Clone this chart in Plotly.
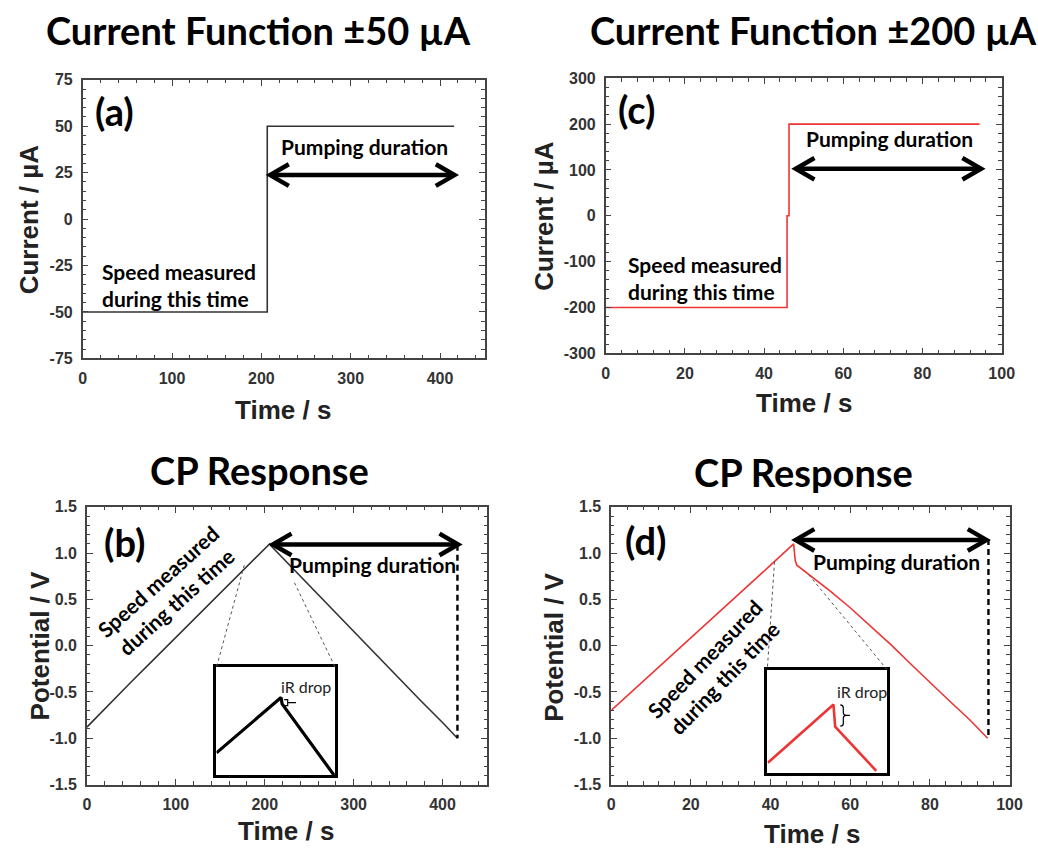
import plotly.graph_objects as go

W, H = 1038, 854

# ---------------- data ----------------
# (a) current function +-50 uA
t_a = [0, 206.6, 206.6, 415.8]
i_a = [-50, -50, 50, 50]
# (c) current function +-200 uA
t_c = [0, 45.8, 45.8, 46.3, 46.3, 94.4]
i_c = [-200, -200, 0, 0, 200, 200]
# (b) CP response for +-50 uA
t_b = [0, 25, 50, 75, 100, 125, 150, 175, 205.5, 207, 225, 250, 275, 300, 325, 350, 375, 400, 416.8]
v_b = [-0.88, -0.63, -0.39, -0.15, 0.09, 0.33, 0.57, 0.81, 1.10, 1.08, 0.90, 0.65, 0.40, 0.16, -0.09, -0.34, -0.59, -0.83, -1.00]
# (d) CP response for +-200 uA
t_d = [0, 10, 20, 30, 40, 45.8, 46.2, 46.6, 50, 55, 60, 65, 70, 75, 80, 85, 90, 94.5]
v_d = [-0.70, -0.31, 0.09, 0.48, 0.87, 1.10, 0.92, 0.87, 0.76, 0.59, 0.41, 0.22, 0.02, -0.19, -0.40, -0.60, -0.80, -1.00]
# insets: zoom of the peak region (percent of the inset box)
xin_b = [0, 54.4, 55.3, 99]
yin_b = [20.6, 72, 66, 0]
xin_d = [0.5, 55.3, 56.7, 91]
yin_d = [10, 66.2, 44.8, 2.3]

# tick labels
ya_vals = [-75, -50, -25, 0, 25, 50, 75]
ya_text = ["-75", "-50", "-25", "0", "25", "50", "75"]
yc_vals = [-300, -200, -100, 0, 100, 200, 300]
yc_text = ["-300", "-200", "-100", "0", "100", "200", "300"]
yv_vals = [-1.5, -1.0, -0.5, 0.0, 0.5, 1.0, 1.5]
yv_text = ["-1.5", "-1.0", "-0.5", "0.0", "0.5", "1.0", "1.5"]

titles = ["Current Function ±50 µA", "Current Function ±200 µA", "CP Response", "CP Response"]
panel_labels = ["(a)", "(c)", "(b)", "(d)"]

RED = "#ee3535"
AXC = "#444444"

# ---------------- layout boxes (px: left, top, right, bottom) ----------------
BOX = {
    "a": (80, 73.3, 488.7, 357.5),
    "c": (611.7, 71.7, 1014.3, 352.3),
    "b": (84.3, 509, 491, 792.3),
    "d": (617.3, 509, 1022.3, 792.3),
    "ib": (216, 672.7, 336.7, 782.7),
    "id": (776, 675, 897.7, 780.7),
}
RNG = {
    "a": ([0, 450], [-75, 75]),
    "c": ([0, 100], [-300, 300]),
    "b": ([0, 450], [-1.5, 1.5]),
    "d": ([0, 100], [-1.5, 1.5]),
    "ib": ([0, 100], [0, 100]),
    "id": ([0, 100], [0, 100]),
}


def to_px(key, x, y):
    l, t, r, b = BOX[key]
    xr, yr = RNG[key]
    px = l + (x - xr[0]) / (xr[1] - xr[0]) * (r - l)
    py = b - (y - yr[0]) / (yr[1] - yr[0]) * (b - t)
    return px, py


def pxp(px):
    return px / W


def pyp(py):
    return 1 - py / H


def dom(key):
    l, t, r, b = BOX[key]
    return [l / W, r / W], [1 - b / H, 1 - t / H]


fig = go.Figure()

tickfont = dict(family="Liberation Sans", size=16, color="#333333", weight="bold")


def axis(key, which, dtick, minor, tickvals=None, ticktext=None, anchor=None):
    xd, yd = dom(key)
    rng = RNG[key][0] if which == "x" else RNG[key][1]
    d = dict(
        domain=xd if which == "x" else yd,
        range=rng,
        anchor=anchor,
        showline=True, linecolor=AXC, linewidth=1.5, mirror="ticks",
        ticks="inside", ticklen=6, tickwidth=1.3, tickcolor=AXC,
        minor=dict(ticks="inside", ticklen=3.5, tickwidth=1.1, tickcolor=AXC, dtick=minor, tick0=0),
        showgrid=False, zeroline=False, tickfont=tickfont, fixedrange=True,
        ticklabelstandoff=5,
    )
    if tickvals is not None:
        d.update(tickmode="array", tickvals=tickvals, ticktext=ticktext)
    else:
        d.update(tick0=0, dtick=dtick)
    return d


def inset_axis(key, which, anchor):
    xd, yd = dom(key)
    return dict(domain=xd if which == "x" else yd, range=[0, 100], anchor=anchor,
                showline=True, linecolor="black", linewidth=2.5, mirror=True,
                ticks="", showticklabels=False, showgrid=False, zeroline=False, fixedrange=True)


layout_axes = dict(
    xaxis=axis("a", "x", 100, 20, anchor="y"),
    yaxis=axis("a", "y", None, 5, ya_vals, ya_text, anchor="x"),
    xaxis2=axis("c", "x", 20, 4, anchor="y2"),
    yaxis2=axis("c", "y", None, 20, yc_vals, yc_text, anchor="x2"),
    xaxis3=axis("b", "x", 100, 20, anchor="y3"),
    yaxis3=axis("b", "y", None, 0.1, yv_vals, yv_text, anchor="x3"),
    xaxis4=axis("d", "x", 20, 4, anchor="y4"),
    yaxis4=axis("d", "y", None, 0.1, yv_vals, yv_text, anchor="x4"),
    xaxis5=inset_axis("ib", "x", "y5"),
    yaxis5=inset_axis("ib", "y", "x5"),
    xaxis6=inset_axis("id", "x", "y6"),
    yaxis6=inset_axis("id", "y", "x6"),
)

# ---------------- traces ----------------
fig.add_trace(go.Scatter(x=t_a, y=i_a, mode="lines", line=dict(color="#333333", width=1.6), xaxis="x", yaxis="y"))
fig.add_trace(go.Scatter(x=t_c, y=i_c, mode="lines", line=dict(color=RED, width=1.6), xaxis="x2", yaxis="y2"))
fig.add_trace(go.Scatter(x=t_b, y=v_b, mode="lines", line=dict(color="#333333", width=1.6), xaxis="x3", yaxis="y3"))
fig.add_trace(go.Scatter(x=t_d, y=v_d, mode="lines", line=dict(color=RED, width=1.6), xaxis="x4", yaxis="y4"))
fig.add_trace(go.Scatter(x=xin_b, y=yin_b, mode="lines", line=dict(color="black", width=3.2), xaxis="x5", yaxis="y5", cliponaxis=True))
fig.add_trace(go.Scatter(x=xin_d, y=yin_d, mode="lines", line=dict(color=RED, width=2.6), xaxis="x6", yaxis="y6", cliponaxis=True))

shapes = []
annotations = []


def dbl_arrow(key, x0, x1, y, width=4.5):
    p0x, py = to_px(key, x0, y)
    p1x, _ = to_px(key, x1, y)
    shapes.append(dict(type="line", xref="paper", yref="paper",
                       x0=pxp(p0x + 2), y0=pyp(py), x1=pxp(p1x - 2), y1=pyp(py),
                       line=dict(color="black", width=width)))
    hl, hw = 19, 11
    for tip, s in ((p0x, 1), (p1x, -1)):
        path = "M {:.5f},{:.5f} L {:.5f},{:.5f} L {:.5f},{:.5f}".format(
            pxp(tip + s * hl), pyp(py - hw), pxp(tip), pyp(py), pxp(tip + s * hl), pyp(py + hw))
        shapes.append(dict(type="path", xref="paper", yref="paper", path=path,
                           line=dict(color="black", width=width)))


def seg(key1, x1, y1, key2, x2, y2, width, dash, color):
    a = to_px(key1, x1, y1)
    b = to_px(key2, x2, y2)
    shapes.append(dict(type="line", xref="paper", yref="paper",
                       x0=pxp(a[0]), y0=pyp(a[1]), x1=pxp(b[0]), y1=pyp(b[1]),
                       line=dict(color=color, width=width, dash=dash)))


# double arrows (pumping duration)
dbl_arrow("a", 209.8, 416.2, 23.7)
dbl_arrow("c", 48.0, 94.8, 102.6)
dbl_arrow("b", 209.1, 417.6, 1.094)
dbl_arrow("d", 46.3, 94.2, 1.143)

# vertical dashed end markers
seg("b", 416.8, 1.09, "b", 416.8, -1.0, 2.4, "6px,4px", "black")
seg("d", 94.7, 1.154, "d", 94.7, -1.0, 2.4, "6px,4px", "black")

# zoom connector lines
seg("b", 177, 0.87, "ib", 0, 100, 1, "3px,3px", "#555555")
seg("b", 233.5, 0.68, "ib", 100, 100, 1, "3px,3px", "#555555")
seg("d", 41.0, 0.907, "id", 0, 100, 1, "3px,3px", "#555555")
seg("d", 49.6, 0.766, "id", 100, 100, 1, "3px,3px", "#555555")

# iR-drop brackets in the insets
shapes.append(dict(type="path", xref="x5", yref="y5",
                   path="M 57,70 L 60,70 L 60,64.5 L 57,64.5 M 60,67.2 L 67,67.2",
                   line=dict(color="black", width=1.2)))
shapes.append(dict(type="path", xref="x6", yref="y6",
                   path="M 61,66 Q 63.5,66 63.5,63 L 63.5,58.5 Q 63.5,55.8 66,55.8 Q 63.5,55.8 63.5,53 L 63.5,48 Q 63.5,45.4 61,45.4 M 66,55.8 L 69,55.8",
                   line=dict(color="black", width=1.2)))

# ---------------- text ----------------


def txt(text, x, y, size, family="Lato", weight="bold", color="black", angle=0, xanchor="center", yanchor="middle", align="center"):
    annotations.append(dict(text=text, x=pxp(x), y=pyp(y), xref="paper", yref="paper",
                            showarrow=False, xanchor=xanchor, yanchor=yanchor, align=align,
                            textangle=angle,
                            font=dict(family=family, size=size, color=color, weight=weight)))


# titles
txt(titles[0], 259, 22, 38)
txt(titles[1], 823, 22, 38)
txt(titles[2], 260, 471, 38)
txt(titles[3], 813, 473, 38)

# axis titles
txt("Current / µA", 25, 216, 26, family="Liberation Sans", color="#222222", angle=-90)
txt("Time / s", 284, 410, 26, family="Liberation Sans", color="#222222")
txt("Current / µA", 549, 212, 26, family="Liberation Sans", color="#222222", angle=-90)
txt("Time / s", 813, 403, 26, family="Liberation Sans", color="#222222")
txt("Potential / V", 37, 651, 26, family="Liberation Sans", color="#222222", angle=-90)
txt("Time / s", 287, 840, 26, family="Liberation Sans", color="#222222")
txt("Potential / V", 559, 652, 26, family="Liberation Sans", color="#222222", angle=-90)
txt("Time / s", 821, 843, 26, family="Liberation Sans", color="#222222")

# panel labels
txt(panel_labels[0], 112, 105, 38)
txt(panel_labels[1], 643, 103, 38)
txt(panel_labels[2], 122, 545, 38)
txt(panel_labels[3], 652, 543, 38)

# annotation text
txt("Pumping duration", 366, 141, 21)
txt("Pumping duration", 900, 133, 21)
txt("Pumping duration", 375, 568, 21)
txt("Pumping duration", 907, 565, 21)
txt("Speed measured<br>during this time", 97.7, 283, 21, xanchor="left", align="left")
txt("Speed measured<br>during this time", 632, 275, 21, xanchor="left", align="left")
txt("Speed measured<br>during this time", 166, 595, 21, angle=-42)
txt("Speed measured<br>during this time", 722, 673, 21, angle=-46)
txt("iR drop", 307, 692, 16, weight="normal", color="#222222")
txt("iR drop", 872, 697, 16, weight="normal", color="#222222")

fig.update_layout(
    width=W, height=H,
    margin=dict(l=0, r=0, t=0, b=0),
    paper_bgcolor="white", plot_bgcolor="white",
    showlegend=False,
    shapes=shapes, annotations=annotations,
    **layout_axes,
)

fig.write_html("out.html")
